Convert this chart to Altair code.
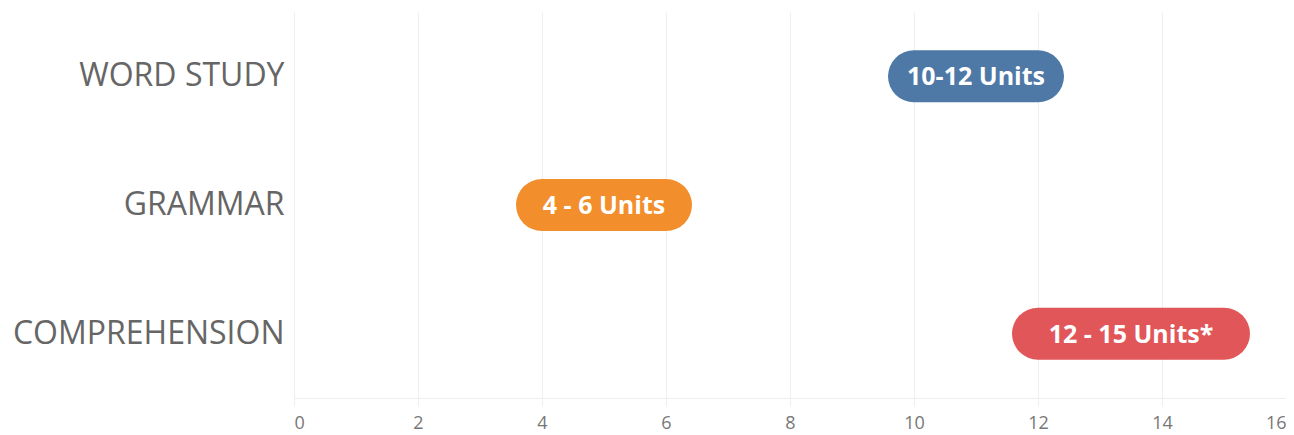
import altair as alt
import pandas as pd

categories = ["WORD STUDY", "GRAMMAR", "COMPREHENSION"]
starts = [10, 4, 12]
ends = [12, 6, 15]
labels = ["10-12 Units", "4 - 6 Units", "12 - 15 Units*"]
colors = ["#4E79A7", "#F28E2B", "#E15759"]
tick_values = [0, 2, 4, 6, 8, 10, 12, 14, 16]

df = pd.DataFrame({"category": categories, "start": starts, "end": ends, "label": labels})
df["mid"] = (df["start"] + df["end"]) / 2

y_enc = alt.Y(
    "category:N",
    sort=categories,
    scale=alt.Scale(domain=categories, paddingInner=0, paddingOuter=0),
    axis=alt.Axis(
        title=None, labelFontSize=32, labelColor="#666666", labelFont="Open Sans",
        ticks=False, domain=False, labelPadding=10, grid=False, labelLimit=0,
    ),
)
x_scale = alt.Scale(domain=[0, 16], nice=False)
x_axis = alt.Axis(
    title=None, values=tick_values, format="d", grid=True, gridColor="#eeeeee",
    domainColor="#eeeeee", tickColor="#eeeeee", tickSize=8,
    labelFontSize=18, labelColor="#777777", labelFont="Open Sans",
    labelFlush=True, labelPadding=8,
)

rule = alt.Chart(df).mark_rule(strokeWidth=52, strokeCap="round").encode(
    y=y_enc,
    x=alt.X("start:Q", scale=x_scale, axis=x_axis),
    x2="end:Q",
    color=alt.Color("category:N", scale=alt.Scale(domain=categories, range=colors), legend=None),
)
text = alt.Chart(df).mark_text(color="white", fontWeight="bold", fontSize=25, font="Open Sans", dy=1).encode(
    y=alt.Y("category:N", sort=categories),
    x=alt.X("mid:Q", scale=x_scale),
    text="label:N",
)

chart = (rule + text).properties(
    width=992, height=386,
    autosize=alt.AutoSizeParams(type="none"),
    padding={"left": 286, "top": 4, "right": 0, "bottom": 35},
).configure_view(stroke=None)

chart.save("out.html", embed_options={"renderer": "svg", "actions": False})
